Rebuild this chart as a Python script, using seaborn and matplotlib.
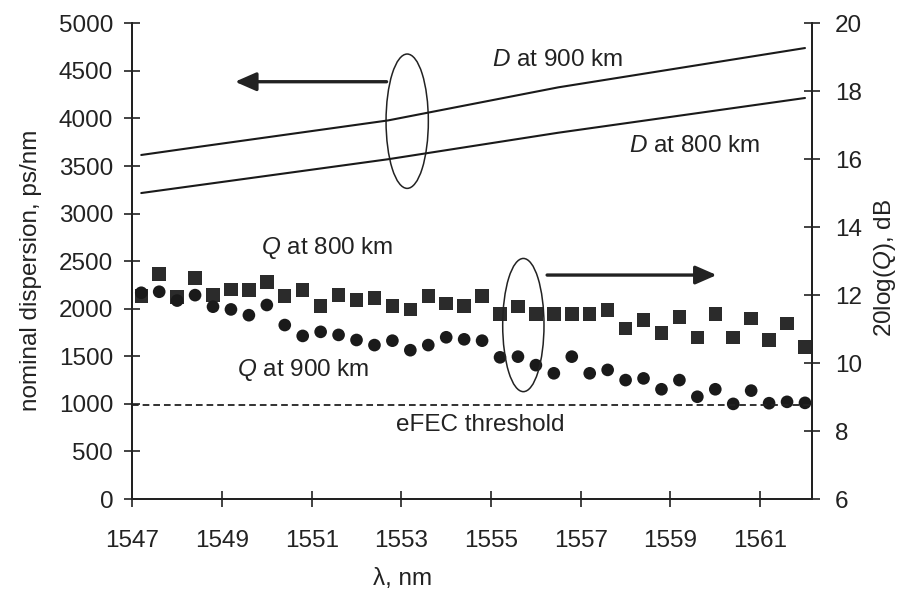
import matplotlib
matplotlib.use("Agg")
import matplotlib.pyplot as plt
import seaborn as sns
from matplotlib.patches import Ellipse

# ---- data ----
wavelength = [1547.2, 1547.6, 1548.0, 1548.4, 1548.8, 1549.2, 1549.6, 1550.0, 1550.4, 1550.8,
              1551.2, 1551.6, 1552.0, 1552.4, 1552.8, 1553.2, 1553.6, 1554.0, 1554.4, 1554.8,
              1555.2, 1555.6, 1556.0, 1556.4, 1556.8, 1557.2, 1557.6, 1558.0, 1558.4, 1558.8,
              1559.2, 1559.6, 1560.0, 1560.4, 1560.8, 1561.2, 1561.6, 1562.0]
q_800 = [11.97, 12.62, 11.95, 12.50, 12.00, 12.17, 12.15, 12.39, 11.97, 12.15,
         11.68, 12.00, 11.86, 11.92, 11.68, 11.58, 11.97, 11.76, 11.68, 11.97,
         11.44, 11.66, 11.44, 11.44, 11.44, 11.44, 11.56, 11.02, 11.27, 10.89,
         11.36, 10.76, 11.44, 10.76, 11.32, 10.68, 11.17, 10.48]
q_900 = [12.07, 12.10, 11.84, 12.00, 11.66, 11.58, 11.41, 11.71, 11.12, 10.80,
         10.92, 10.83, 10.68, 10.53, 10.66, 10.38, 10.53, 10.76, 10.70, 10.66,
         10.17, 10.19, 9.94, 9.70, 10.19, 9.70, 9.80, 9.50, 9.55, 9.23,
         9.50, 9.01, 9.23, 8.80, 9.19, 8.82, 8.86, 8.83]
wl_disp = [1547.2, 1548.5, 1552.7, 1556.5, 1562.0]
d_900 = [3616, 3703, 3979, 4327, 4740]
d_800 = [3216, 3300, 3571, 3850, 4215]
efec_threshold = 8.77

x_ticks = [1547, 1549, 1551, 1553, 1555, 1557, 1559, 1561]
left_ticks = [0, 500, 1000, 1500, 2000, 2500, 3000, 3500, 4000, 4500, 5000]
right_ticks = [6, 8, 10, 12, 14, 16, 18, 20]

# ---- style ----
sns.set_theme(style="ticks")
plt.rcParams["font.family"] = ["Liberation Sans", "DejaVu Sans"]
plt.rcParams["mathtext.fontset"] = "custom"
plt.rcParams["mathtext.it"] = "Liberation Sans:italic"
plt.rcParams["mathtext.rm"] = "Liberation Sans"
plt.rcParams["mathtext.bf"] = "Liberation Sans:bold"
ink = "#222222"
fs = 17.5

fig = plt.figure(figsize=(9.03, 5.99), dpi=100)
ax = fig.add_axes([0.1465, 0.1669, 0.7524, 0.7942])
ax2 = ax.twinx()

# dispersion lines (left axis)
sns.lineplot(x=wl_disp, y=d_900, ax=ax, color="#1a1a1a", lw=1.5)
sns.lineplot(x=wl_disp, y=d_800, ax=ax, color="#1a1a1a", lw=1.5)

# Q points (right axis)
sns.scatterplot(x=wavelength, y=q_800, ax=ax2, marker="s", s=94, color="#2b2b2b",
                edgecolor="none", linewidth=0)
sns.scatterplot(x=wavelength, y=q_900, ax=ax2, marker="o", s=83, color="#1a1a1a",
                edgecolor="none", linewidth=0)
ax2.axhline(efec_threshold, color=ink, lw=1.3, ls=(0, (3.7, 2.2)))

ax.set_xlim(1547, 1562.15)
ax.set_ylim(0, 5000)
ax2.set_ylim(6, 20)

ax.set_xticks(x_ticks)
ax.set_yticks(left_ticks)
ax2.set_yticks(right_ticks)

for a in (ax, ax2):
    a.spines["top"].set_visible(False)
    for s in ("left", "right", "bottom"):
        a.spines[s].set_linewidth(1.4)
        a.spines[s].set_color(ink)

ax.tick_params(axis="x", direction="inout", length=11.5, width=1.2, pad=16.5,
               labelsize=fs, colors=ink)
ax.tick_params(axis="y", direction="inout", length=11.5, width=1.2, pad=8,
               labelsize=fs, colors=ink)
ax2.tick_params(axis="y", direction="inout", length=11.5, width=1.2, pad=10.8,
                labelsize=fs, colors=ink)

ax.set_xlabel("λ, nm", fontsize=fs, color=ink)
ax.xaxis.set_label_coords(0.398, -0.145)
ax.set_ylabel("nominal dispersion, ps/nm", fontsize=fs, color=ink)
ax.yaxis.set_label_coords(-0.133, 0.481)
ax2.set_ylabel("20log($Q$), dB", fontsize=fs, color=ink)
ax2.yaxis.set_label_coords(1.089, 0.486)

# annotations (left-axis data coordinates)
ax.text(1556.49, 4614, "$D$ at 900 km", fontsize=fs, color=ink, ha="center", va="center")
ax.text(1559.53, 3710, "$D$ at 800 km", fontsize=fs, color=ink, ha="center", va="center")
ax.text(1551.35, 2638, "$Q$ at 800 km", fontsize=fs, color=ink, ha="center", va="center")
ax.text(1550.80, 1356, "$Q$ at 900 km", fontsize=fs, color=ink, ha="center", va="center")
ax.text(1554.75, 778, "eFEC threshold", fontsize=fs, color=ink, ha="center", va="center")

ax.add_patch(Ellipse((1553.13, 3971), 0.943, 1412, fill=False, edgecolor=ink, lw=1.1))
ax2.add_patch(Ellipse((1555.72, 11.12), 0.921, 3.92, fill=False, edgecolor=ink, lw=1.1, zorder=5))

arrow = dict(arrowstyle="-|>,head_length=0.8,head_width=0.35", mutation_scale=16,
             lw=2.4, color=ink, shrinkA=0, shrinkB=0)
ax.annotate("", xy=(1549.29, 4386), xytext=(1552.67, 4386), arrowprops=arrow)
ax.annotate("", xy=(1560.03, 2354), xytext=(1556.25, 2354), arrowprops=arrow)

fig.savefig("out.png", dpi=100)
